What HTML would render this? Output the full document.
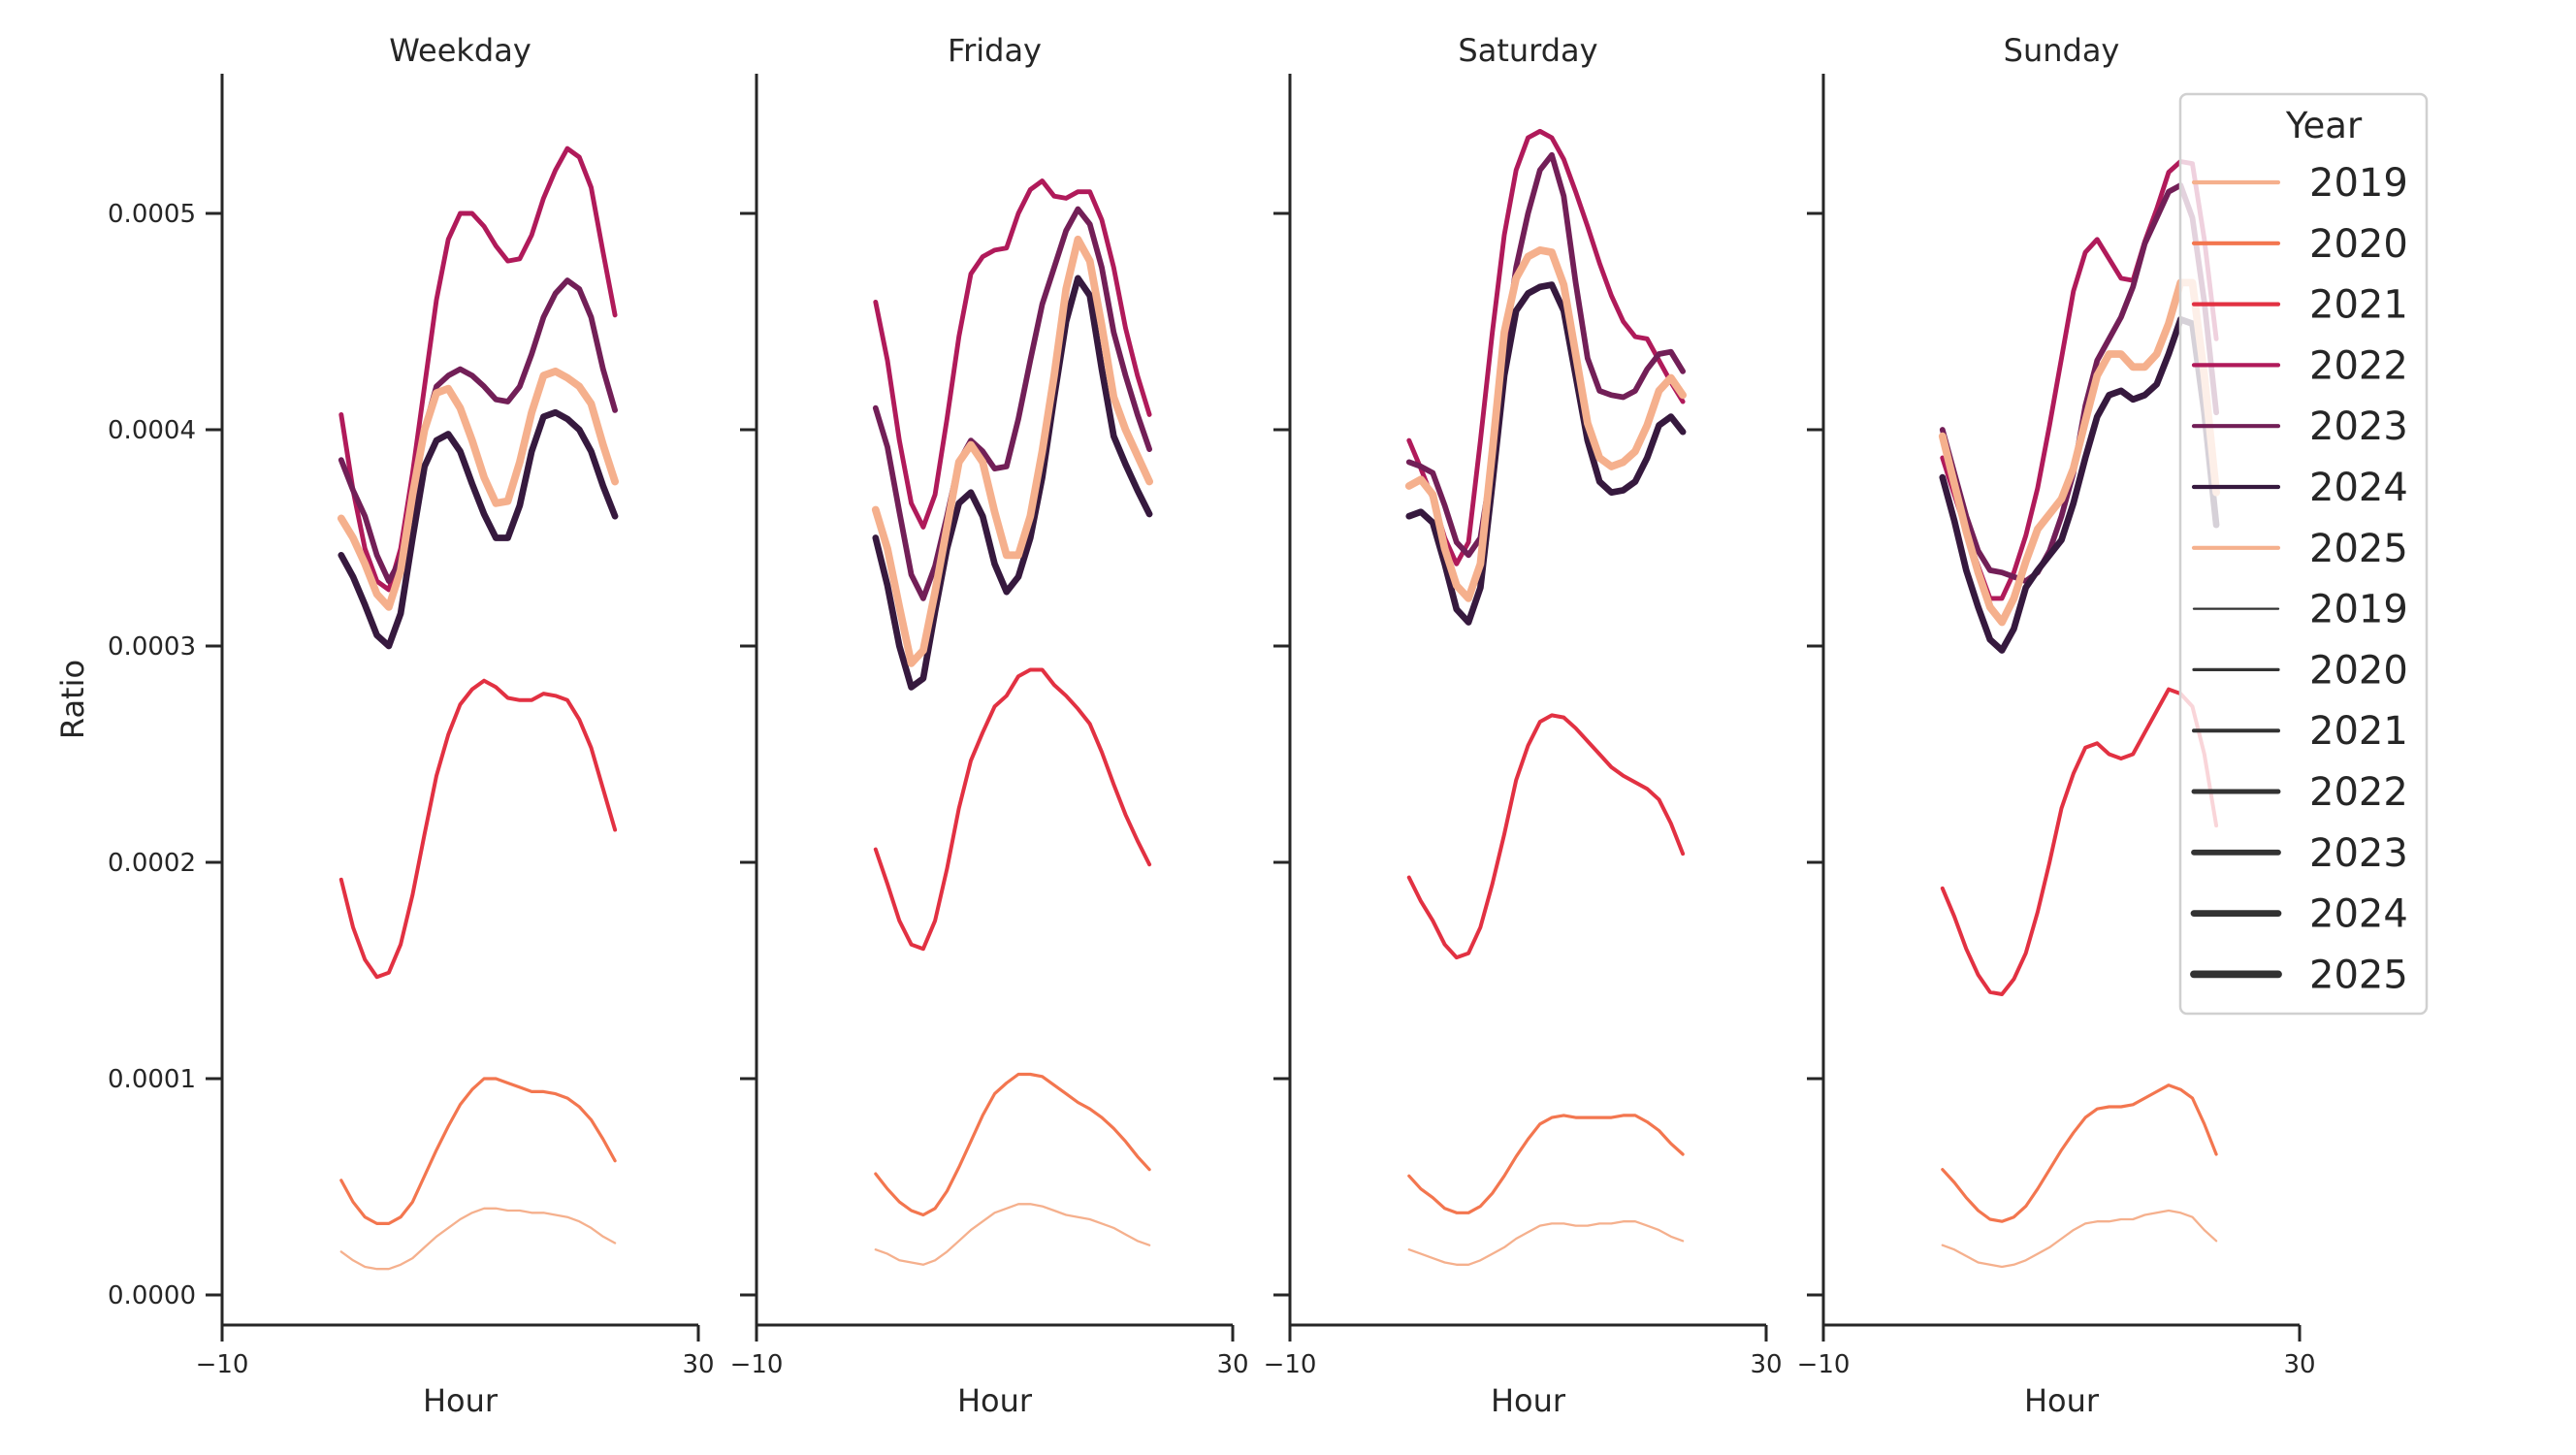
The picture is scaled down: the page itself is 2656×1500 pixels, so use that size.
<!DOCTYPE html>
<html><head><meta charset="utf-8">
<style>
html,body{margin:0;padding:0;background:#fff;}
svg{display:block;font-family:"DejaVu Sans","Liberation Sans",sans-serif;}
</style></head>
<body>
<svg id="chart" width="2656" height="1500" viewBox="0 0 2656 1500" xmlns="http://www.w3.org/2000/svg">
<rect width="2656" height="1500" fill="#fff"/>
<g id="panels"></g>
<g id="legend"></g>
</svg>
<script>
const panels = ["Weekday","Friday","Saturday","Sunday"];
const years = ["2019","2020","2021","2022","2023","2024","2025"];
const hours = [0,1,2,3,4,5,6,7,8,9,10,11,12,13,14,15,16,17,18,19,20,21,22,23];
const yTicks = [0,0.0001,0.0002,0.0003,0.0004,0.0005];
const yTickLabels = ["0.0000","0.0001","0.0002","0.0003","0.0004","0.0005"];
const xTicks = [-10,30];
const xTickLabels = ["\u221210","30"];

// values x1e-4
const wd2019=[0.20,0.16,0.13,0.12,0.12,0.14,0.17,0.22,0.27,0.31,0.35,0.38,0.40,0.40,0.39,0.39,0.38,0.38,0.37,0.36,0.34,0.31,0.27,0.24];
const wd2020=[0.53,0.43,0.36,0.33,0.33,0.36,0.43,0.55,0.67,0.78,0.88,0.95,1.00,1.00,0.98,0.96,0.94,0.94,0.93,0.91,0.87,0.81,0.72,0.62];
const wd2021=[1.92,1.70,1.55,1.47,1.49,1.62,1.85,2.13,2.40,2.59,2.73,2.80,2.84,2.81,2.76,2.75,2.75,2.78,2.77,2.75,2.66,2.53,2.34,2.15];
const wd2022=[4.07,3.72,3.45,3.30,3.26,3.45,3.80,4.20,4.60,4.88,5.00,5.00,4.94,4.85,4.78,4.79,4.90,5.07,5.20,5.30,5.26,5.12,4.82,4.53];
const wd2023=[3.86,3.72,3.60,3.42,3.30,3.40,3.65,4.00,4.20,4.25,4.28,4.25,4.20,4.14,4.13,4.20,4.35,4.52,4.63,4.69,4.65,4.52,4.28,4.09];
const wd2024=[3.42,3.32,3.19,3.05,3.00,3.15,3.50,3.83,3.95,3.98,3.90,3.75,3.61,3.50,3.50,3.65,3.90,4.06,4.08,4.05,4.00,3.90,3.74,3.60];
const wd2025=[3.59,3.50,3.38,3.24,3.18,3.35,3.70,4.00,4.17,4.19,4.10,3.95,3.78,3.66,3.67,3.85,4.08,4.25,4.27,4.24,4.20,4.12,3.93,3.76];

const fr2019=[0.21,0.19,0.16,0.15,0.14,0.16,0.20,0.25,0.30,0.34,0.38,0.40,0.42,0.42,0.41,0.39,0.37,0.36,0.35,0.33,0.31,0.28,0.25,0.23];
const fr2020=[0.56,0.49,0.43,0.39,0.37,0.40,0.48,0.59,0.71,0.83,0.93,0.98,1.02,1.02,1.01,0.97,0.93,0.89,0.86,0.82,0.77,0.71,0.64,0.58];
const fr2021=[2.06,1.90,1.73,1.62,1.60,1.73,1.97,2.25,2.47,2.60,2.72,2.77,2.86,2.89,2.89,2.82,2.77,2.71,2.64,2.51,2.36,2.22,2.10,1.99];
const fr2022=[4.59,4.32,3.95,3.66,3.55,3.70,4.05,4.43,4.72,4.80,4.83,4.84,5.00,5.11,5.15,5.08,5.07,5.10,5.10,4.97,4.75,4.47,4.25,4.07];
const fr2023=[4.10,3.92,3.62,3.33,3.22,3.37,3.60,3.85,3.95,3.90,3.82,3.83,4.05,4.32,4.58,4.75,4.92,5.02,4.95,4.75,4.45,4.25,4.07,3.91];
const fr2024=[3.50,3.28,3.00,2.81,2.85,3.16,3.45,3.66,3.71,3.60,3.38,3.25,3.32,3.50,3.78,4.15,4.50,4.70,4.62,4.28,3.97,3.84,3.72,3.61];
const fr2025=[3.63,3.45,3.18,2.92,2.98,3.25,3.55,3.85,3.93,3.85,3.62,3.42,3.42,3.60,3.90,4.25,4.65,4.88,4.78,4.48,4.15,4.00,3.88,3.76];

const sa2019=[0.21,0.19,0.17,0.15,0.14,0.14,0.16,0.19,0.22,0.26,0.29,0.32,0.33,0.33,0.32,0.32,0.33,0.33,0.34,0.34,0.32,0.30,0.27,0.25];
const sa2020=[0.55,0.49,0.45,0.40,0.38,0.38,0.41,0.47,0.55,0.64,0.72,0.79,0.82,0.83,0.82,0.82,0.82,0.82,0.83,0.83,0.80,0.76,0.70,0.65];
const sa2021=[1.93,1.82,1.73,1.62,1.56,1.58,1.70,1.90,2.13,2.38,2.54,2.65,2.68,2.67,2.62,2.56,2.50,2.44,2.40,2.37,2.34,2.29,2.18,2.04];
const sa2022=[3.95,3.82,3.68,3.50,3.38,3.48,3.95,4.45,4.90,5.20,5.35,5.38,5.35,5.25,5.10,4.94,4.77,4.62,4.50,4.43,4.42,4.32,4.22,4.13];
const sa2023=[3.85,3.83,3.80,3.65,3.48,3.42,3.50,3.85,4.35,4.75,5.00,5.20,5.27,5.08,4.68,4.33,4.18,4.16,4.15,4.18,4.28,4.35,4.36,4.27];
const sa2024=[3.60,3.62,3.57,3.38,3.17,3.11,3.27,3.75,4.25,4.55,4.63,4.66,4.67,4.55,4.25,3.95,3.76,3.71,3.72,3.76,3.87,4.02,4.06,3.99];
const sa2025=[3.74,3.77,3.70,3.45,3.28,3.22,3.38,3.90,4.45,4.70,4.80,4.83,4.82,4.67,4.35,4.03,3.87,3.83,3.85,3.90,4.02,4.18,4.24,4.16];

const su2019=[0.23,0.21,0.18,0.15,0.14,0.13,0.14,0.16,0.19,0.22,0.26,0.30,0.33,0.34,0.34,0.35,0.35,0.37,0.38,0.39,0.38,0.36,0.30,0.25];
const su2020=[0.58,0.52,0.45,0.39,0.35,0.34,0.36,0.41,0.49,0.58,0.67,0.75,0.82,0.86,0.87,0.87,0.88,0.91,0.94,0.97,0.95,0.91,0.79,0.65];
const su2021=[1.88,1.75,1.60,1.48,1.40,1.39,1.46,1.58,1.77,2.00,2.25,2.41,2.53,2.55,2.50,2.48,2.50,2.60,2.70,2.80,2.78,2.72,2.50,2.17];
const su2022=[3.87,3.70,3.53,3.37,3.22,3.22,3.34,3.51,3.73,4.02,4.33,4.64,4.82,4.88,4.79,4.70,4.69,4.87,5.02,5.19,5.24,5.23,4.88,4.42];
const su2023=[4.00,3.80,3.60,3.44,3.35,3.34,3.32,3.30,3.34,3.44,3.60,3.80,4.11,4.32,4.42,4.52,4.66,4.86,4.98,5.10,5.13,4.98,4.59,4.08];
const su2024=[3.78,3.58,3.35,3.18,3.03,2.98,3.08,3.27,3.35,3.42,3.49,3.66,3.87,4.06,4.16,4.18,4.14,4.16,4.21,4.35,4.51,4.49,4.08,3.56];
const su2025=[3.97,3.75,3.53,3.34,3.18,3.11,3.22,3.39,3.54,3.61,3.68,3.82,4.04,4.25,4.35,4.35,4.29,4.29,4.35,4.49,4.68,4.68,4.25,3.71];

const seriesByPanel = [
  [wd2019,wd2020,wd2021,wd2022,wd2023,wd2024,wd2025],
  [fr2019,fr2020,fr2021,fr2022,fr2023,fr2024,fr2025],
  [sa2019,sa2020,sa2021,sa2022,sa2023,sa2024,sa2025],
  [su2019,su2020,su2021,su2022,su2023,su2024,su2025]
];
const colors = ["#f5b08d","#f3764f","#e23142","#b01a5a","#721f57","#36193e","#f5b08d"];
const widths = [2.3,3.2,4.0,4.9,5.8,6.7,7.8];

const NS="http://www.w3.org/2000/svg";
const panelLeft=[229,780,1330,1880], panelW=491, yTop=76, yBottom=1366;
function xScale(p,h){return panelLeft[p]+(h+10)/40*panelW;}
function yScale(v){return 1335-v*2230000;}
function mk(tag,attrs,parent){const e=document.createElementNS(NS,tag);for(const k in attrs)e.setAttribute(k,attrs[k]);parent.appendChild(e);return e;}

const G=document.getElementById('panels');
panels.forEach((name,p)=>{
  const g=mk('g',{},G);
  
  
  const L=panelLeft[p];
  const t=mk('text',{x:L+panelW/2,y:63,'text-anchor':'middle','font-size':32,fill:'#262626'},g);
  t.textContent=name;
  
  
  const ls=mk('line',{x1:L,y1:yTop,x2:L,y2:yBottom+1.5,stroke:'#262626','stroke-width':3},g);
  
  
  const bs=mk('line',{x1:L-1.5,y1:yBottom,x2:L+panelW,y2:yBottom,stroke:'#262626','stroke-width':3},g);
  
  
  yTicks.forEach((v,i)=>{
    const tk=mk('line',{x1:L-17,x2:L,y1:yScale(v),y2:yScale(v),stroke:'#262626','stroke-width':3},g);
    
    
    if(p===0){
      const tl=mk('text',{x:L-27,y:yScale(v)+9,'text-anchor':'end','font-size':26,fill:'#262626'},g);
      tl.textContent=yTickLabels[i];
      
      
    }
  });
  xTicks.forEach((h,i)=>{
    const tk=mk('line',{x1:xScale(p,h),x2:xScale(p,h),y1:yBottom,y2:yBottom+17,stroke:'#262626','stroke-width':3},g);
    
    
    const tl=mk('text',{x:xScale(p,h),y:1415,'text-anchor':'middle','font-size':26,fill:'#262626'},g);
    tl.textContent=xTickLabels[i];
    
    
  });
  const xl=mk('text',{x:L+panelW/2,y:1455,'text-anchor':'middle','font-size':32,fill:'#262626'},g);
  xl.textContent='Hour';
  
  
  seriesByPanel[p].forEach((vals,s)=>{
    const d=vals.map((v,i)=>(i?'L':'M')+xScale(p,hours[i]).toFixed(1)+' '+yScale(v*1e-4).toFixed(1)).join(' ');
    const path=mk('path',{d:d,fill:'none',stroke:colors[s],'stroke-width':widths[s],'stroke-linejoin':'round','stroke-linecap':'round'},g);
    
    
  });
});
const yl=mk('text',{x:0,y:0,'text-anchor':'middle','font-size':32,fill:'#262626',transform:'translate(86,721) rotate(-90)'},G);
yl.textContent='Ratio';



// legend
const LG=document.getElementById('legend');


const box=mk('rect',{x:2248,y:97,width:254,height:948,rx:7,fill:'rgba(255,255,255,0.8)',stroke:'#d0d0d0','stroke-width':2.5},LG);


const lt=mk('text',{x:2396,y:142,'text-anchor':'middle','font-size':37,fill:'#262626'},LG);
lt.textContent='Year';


for(let r=0;r<14;r++){
  const cy=188+r*62.8;
  const s=r%7;
  const isHue=r<7;
  const ln=mk('line',{x1:2262,x2:2349,y1:cy,y2:cy,stroke:isHue?colors[s]:'#333','stroke-width':isHue?4.2:widths[s],'stroke-linecap':'round'},LG);
  
  
  const tx=mk('text',{x:2381,y:cy+14,'font-size':40,fill:'#262626'},LG);
  tx.textContent=years[s];
  
  
}
</script>
</body></html>
